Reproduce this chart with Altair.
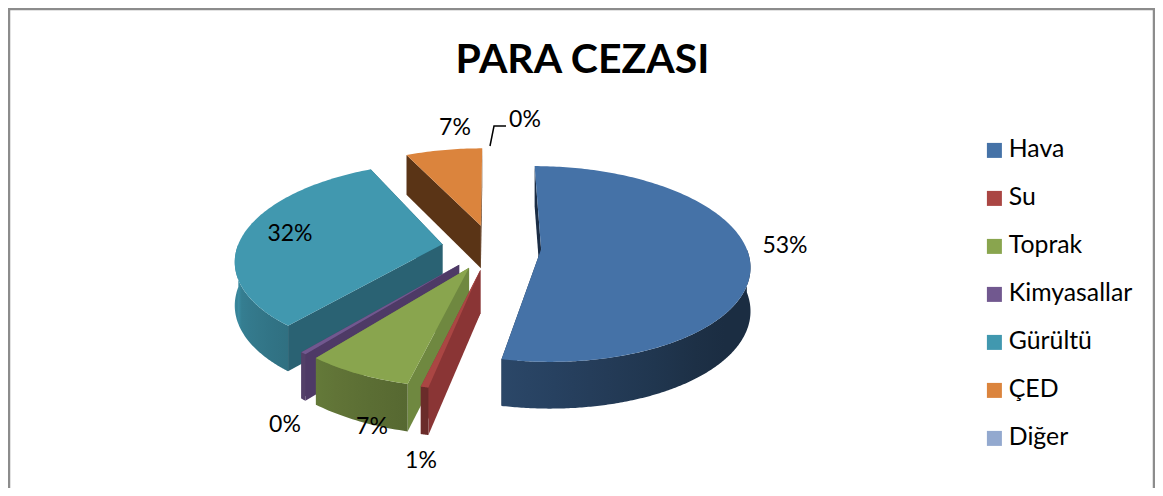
import math
import altair as alt

# ---- data ----
NAMES = ["Hava", "Su", "Toprak", "Kimyasallar", "Gürültü", "ÇED", "Diğer"]
SHARES = [53.2, 0.5, 7.0, 0.4, 31.8, 7.1, 0.0]
TOP_COLORS = ["#4572A7", "#AA4643", "#89A54E", "#71588F", "#4198AF", "#DB843D", "#93A9CF"]
WALL_COLORS = ["#1B2D45", "#8A3535", "#6F8840", "#4E3A66", "#2A6273", "#5A3416", "#6A7A96"]
LABEL_TEXT = ["53%", "1%", "7%", "0%", "32%", "7%", "0%"]

# ---- layout (page pixels minus the 8px body margin) ----
W, H = 1147, 480
OFF = 8
LABEL_POS = [(785, 246), (421, 461), (372, 427), (285, 425), (290, 234), (455, 128), (525, 120)]
LEADER_PAGE = [(490, 146), (494, 126), (506, 126)]
CX, CY, RX, RY, K = 491.5, 247.0, 205.0, 95.0, 0.15
EXPLODE_X, EXPLODE_Z, DEPTH = 0.2424, 0.236, 43.0
SIDE_STOPS = [(90, 0.40), (135, 0.40), (190, 0.62), (220, 0.74), (270, 0.92), (360, 0.92)]
PROJ = dict(type="identity", scale=1, translate=[0, 0])


def project(X, Z, down=0.0):
    s = 1.0 / (1.0 - K * Z)
    return [CX + RX * X * s - OFF, CY + RY * Z * s + down * math.sqrt(s) - OFF]


def rim(ax, az, deg, down=0.0):
    t = math.radians(deg)
    return project(ax + math.sin(t), az - math.cos(t), down)


def shade(hex_color, deg):
    f = SIDE_STOPS[0][1]
    for (a, fa), (b, fb) in zip(SIDE_STOPS, SIDE_STOPS[1:]):
        if a <= deg <= b:
            f = fa + (fb - fa) * (deg - a) / (b - a)
            break
    r, g, b2 = (int(hex_color[i:i + 2], 16) for i in (1, 3, 5))
    return "#%02x%02x%02x" % (int(r * f), int(g * f), int(b2 * f))


def poly(coords, color="#000000", name=None):
    return {
        "type": "Feature",
        "properties": {"fill": color, "name": name},
        "geometry": {"type": "Polygon", "coordinates": [coords + [coords[0]]]},
    }


def rim_gradient(top, lo, hi, pts, ax, az):
    xs = [p[0] for p in pts]
    xmin, xmax = min(xs), max(xs)
    stops = []
    for i in range(9):
        d = lo + (hi - lo) * i / 8
        off = (rim(ax, az, d)[0] - xmin) / (xmax - xmin)
        stops.append((min(1.0, max(0.0, off)), shade(top, d)))
    stops.sort()
    return alt.LinearGradient(
        gradient="linear", x1=0, x2=1, y1=0, y2=0,
        stops=[alt.GradientStop(offset=o, color=c) for o, c in stops],
    )


layers = []
slices = []
acc = 0.0
for name, share, top, wall in zip(NAMES, SHARES, TOP_COLORS, WALL_COLORS):
    slices.append((name, acc * 3.6, (acc + share) * 3.6, top, wall))
    acc += share

order = [5, 6, 4, 3, 2, 1, 0]  # back to front
for idx in order:
    name, a0, a1, top, wall = slices[idx]
    m = math.radians((a0 + a1) / 2)
    ax, az = EXPLODE_X * math.sin(m), -EXPLODE_Z * math.cos(m)
    apex = project(ax, az)
    apex_d = project(ax, az, DEPTH)
    n = max(8, int(a1 - a0))
    steps = [a0 + (a1 - a0) * i / n for i in range(n + 1)]

    walls = [poly([apex, rim(ax, az, d), rim(ax, az, d, DEPTH), apex_d], wall) for d in (a1, a0)]
    layers.append(
        alt.Chart(alt.Data(values=walls))
        .mark_geoshape(strokeWidth=0)
        .encode(fill=alt.Fill("properties.fill:N", scale=None))
        .project(**PROJ)
    )
    lo, hi = max(a0, 90.0), min(a1, 270.0)
    if hi > lo:  # only the part of the rim that faces the viewer
        vis = [lo + (hi - lo) * i / n for i in range(n + 1)]
        rim_pts = [rim(ax, az, d) for d in vis] + [rim(ax, az, d, DEPTH) for d in reversed(vis)]
        layers.append(
            alt.Chart(alt.Data(values=[poly(rim_pts)]))
            .mark_geoshape(fill=rim_gradient(top, lo, hi, rim_pts, ax, az), strokeWidth=0)
            .project(**PROJ)
        )
    face = [apex] + [rim(ax, az, d) for d in steps]
    layers.append(
        alt.Chart(alt.Data(values=[poly(face, top, name)]))
        .mark_geoshape(strokeWidth=0)
        .encode(
            fill=alt.Fill(
                "properties.name:N",
                scale=alt.Scale(domain=NAMES, range=TOP_COLORS),
                sort=NAMES,
                legend=alt.Legend(
                    title=None,
                    orient="none",
                    legendX=974,
                    legendY=130,
                    symbolType="square",
                    symbolSize=225,
                    symbolStrokeWidth=0,
                    labelFont="Lato",
                    labelFontSize=24.8,
                    labelColor="#000000",
                    labelOffset=2,
                    rowPadding=22,
                    labelLimit=200,
                ),
            )
        )
        .project(**PROJ)
    )

# chart frame and leader line
lines = [
    {"type": "Feature", "properties": {}, "geometry": {"type": "LineString", "coordinates": [[1, H], [1, 1], [W - 1, 1], [W - 1, H]]}},
]
leader = [{"type": "Feature", "properties": {}, "geometry": {"type": "LineString", "coordinates": [[x - OFF, y - OFF] for x, y in LEADER_PAGE]}}]
frame = alt.Chart(alt.Data(values=lines)).mark_geoshape(filled=False, stroke="#8c8c8c", strokeWidth=2.5).project(**PROJ)
lead = alt.Chart(alt.Data(values=leader)).mark_geoshape(filled=False, stroke="#000000", strokeWidth=1.5).project(**PROJ)

label_rows = [{"x": p[0] - OFF, "y": p[1] - OFF, "t": t} for p, t in zip(LABEL_POS, LABEL_TEXT)]
labels = (
    alt.Chart(alt.Data(values=label_rows))
    .mark_text(font="Lato", fontSize=23, color="#000000", align="center", baseline="middle")
    .encode(x=alt.X("x:Q", scale=None), y=alt.Y("y:Q", scale=None), text="t:N")
)

chart = (
    alt.layer(frame, *layers, lead, labels)
    .properties(
        width=W,
        height=H,
        padding=0,
        autosize=alt.AutoSizeParams(type="none"),
        title=alt.TitleParams(
            "PARA CEZASI", font="Lato", fontSize=41, fontWeight="bold", color="#000000",
            anchor="middle", dy=74, offset=0, dx=1,
        ),
    )
    .configure_view(stroke=None)
)

chart.save("out.html", embed_options={"renderer": "svg", "actions": False})
